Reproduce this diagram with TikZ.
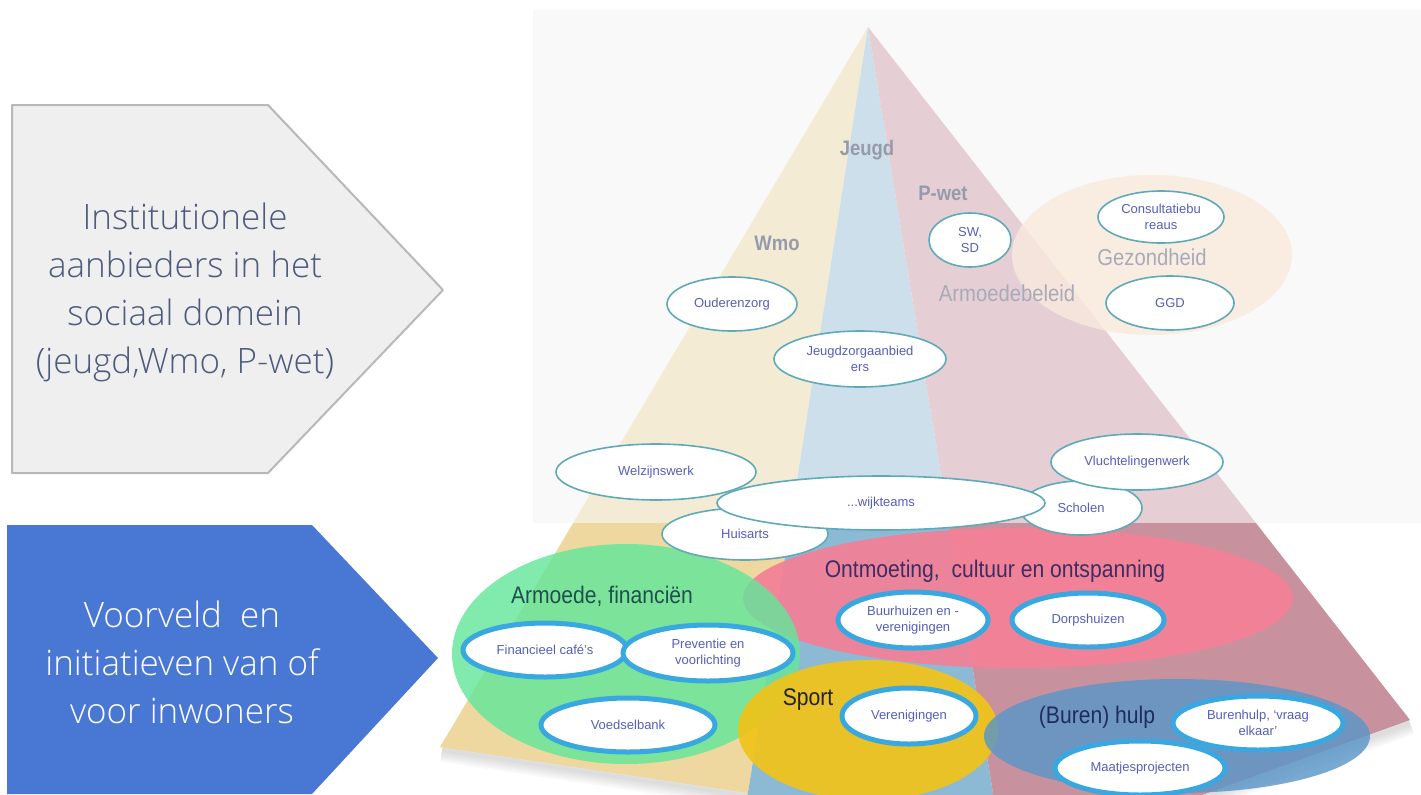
\documentclass[tikz,border=0pt]{standalone}
\usepackage{fontspec}
\setmainfont{Liberation Sans}
\newfontfamily\chevfont{Open Sans Light}
\usetikzlibrary{shapes.geometric}
\definecolor{pyel}{RGB}{238,216,160}
\definecolor{pblu}{RGB}{140,185,212}
\definecolor{pred}{RGB}{200,145,158}
\definecolor{fade}{RGB}{249,249,249}
\definecolor{peach}{RGB}{250,212,178}
\definecolor{mint}{RGB}{100,230,155}
\definecolor{rose}{RGB}{244,128,150}
\definecolor{gold}{RGB}{240,195,25}
\definecolor{steel}{RGB}{90,150,200}
\definecolor{tealrim}{RGB}{95,170,185}
\definecolor{ring}{RGB}{58,168,224}
\definecolor{ink}{RGB}{85,95,185}
\definecolor{lbl}{RGB}{150,155,172}
\definecolor{lbllight}{RGB}{168,170,186}
\definecolor{chevgray}{RGB}{239,239,239}
\definecolor{chevrim}{RGB}{184,184,184}
\definecolor{chevblue}{RGB}{72,120,212}
\definecolor{chevtxt}{RGB}{77,91,124}
\newcommand{\smal}[1]{\scalebox{0.88}[1]{#1}}
\begin{document}
\begin{tikzpicture}[x=0.5pt,y=-0.5pt, line join=round,
	org/.style={ellipse, draw=tealrim, line width=0.8pt, fill=white, inner sep=0pt, text=ink, font=\fontsize{6.5}{8}\selectfont, align=center},
	ini/.style={ellipse, draw=ring, line width=2.5pt, fill=white, inner sep=0pt, text=ink, font=\fontsize{6.5}{8}\selectfont, align=center},
	blob/.style={ellipse, inner sep=0pt},
	wet/.style={text=lbl, font=\fontsize{10.5}{12}\selectfont\bfseries},
	beleid/.style={text=lbllight, font=\fontsize{11.5}{12}\selectfont},
	thema/.style={font=\fontsize{12}{12}\selectfont},
	chev/.style={align=center, font=\chevfont\fontsize{17.5}{24}\selectfont}]
	\useasboundingbox (0,0) rectangle (1421,794);
	\clip (0,0) rectangle (1421,794);
	% pijlen links
	\draw[draw=chevrim, line width=1pt, fill=chevgray] (12,105)--(268,105)--(443,290)--(268,473)--(12,473)--cycle;
	\node[chev, text=chevtxt] (inst) at (185,292) {Institutionele\\aanbieders in het\\sociaal domein\\(jeugd,Wmo, P-wet)};
	\fill[chevblue] (7,525)--(312,525)--(438,658)--(312,794)--(7,794)--cycle;
	\node[chev, text=white] (voorv) at (182,662) {Voorveld~~en\\initiatieven van of\\voor inwoners};
	% piramide
	\fill[fade] (533,10) rectangle (1421,523);
	\foreach \w in {2,4,...,12}
		\draw[black, opacity=0.025, line width=\w pt] (442,750)--(748,796) (1410,723)--(1105,833);
	\fill[pyel] (868,27)--(440,747)--(748,793)--cycle;
	\fill[pblu] (868,27)--(748,793)--(740,830)--(999,830)--cycle;
	\fill[pred] (868,27)--(1410,720)--(1105,830)--(999,830)--cycle;
	\node[blob, fill=peach, opacity=0.8, minimum width=140pt, minimum height=80pt] (gezond) at (1152,255) {};
	\fill[fade, opacity=0.6] (533,10) rectangle (1421,523);
	\node[wet] (jeugd) at (867,150) {\smal{Jeugd}};
	\node[wet] (pwet) at (943,193) {\smal{P-wet}};
	\node[wet] (wmo) at (777,243) {\smal{Wmo}};
	\node[beleid] (armb) at (1007,293) {\smal{Armoedebeleid}};
	\node[beleid] (gezl) at (1152,257) {\smal{Gezondheid}};
	% voorveld
	\node[blob, fill=rose, opacity=0.92, minimum width=275pt, minimum height=70pt] (ontm) at (1018,598) {};
	\node[blob, fill=mint, opacity=0.82, minimum width=174pt, minimum height=110pt] (armoede) at (626,654) {};
	\node[blob, fill=gold, opacity=0.92, minimum width=130pt, minimum height=70pt] (sport) at (868,730) {};
	\node[blob, fill=steel, opacity=0.82, minimum width=193pt, minimum height=57pt] (buren) at (1177,736) {};
	\node[thema, text={rgb,255:red,30;green,80;blue,78}] (armt) at (602,596) {\smal{Armoede, financiën}};
	\node[thema, text={rgb,255:red,60;green,45;blue,100}] (ontmt) at (995,571) {\smal{Ontmoeting,~~cultuur en ontspanning}};
	\node[thema, text={rgb,255:red,34;green,34;blue,34}] (sportt) at (808,700) {\smal{Sport}};
	\node[thema, text={rgb,255:red,30;green,45;blue,95}] (burent) at (1097,717) {\smal{(Buren) hulp}};
	% aanbieders
	\node[org, minimum width=41pt, minimum height=27pt] (swsd) at (970,240) {SW,\\SD};
	\node[org, minimum width=63pt, minimum height=26pt] (consult) at (1161,217) {Consultatiebu\\reaus};
	\node[org, minimum width=64pt, minimum height=27pt] (ggd) at (1170,303) {GGD};
	\node[org, minimum width=65pt, minimum height=27pt] (ouder) at (732,304) {Ouderenzorg};
	\node[org, minimum width=86pt, minimum height=28pt] (jzorg) at (860,359) {Jeugdzorgaanbied\\ers};
	\node[org, minimum width=100pt, minimum height=28pt] (welzijn) at (656,472) {Welzijnswerk};
	\node[org, minimum width=61pt, minimum height=27pt] (scholen) at (1081,508) {Scholen};
	\node[org, minimum width=86pt, minimum height=28pt] (vlucht) at (1137,462) {Vluchtelingenwerk};
	\node[org, minimum width=83pt, minimum height=26pt] (huisarts) at (745,534) {Huisarts};
	\node[org, minimum width=164pt, minimum height=27pt] (wijk) at (881,503) {...wijkteams};
	% initiatieven
	\node[ini, minimum width=82pt, minimum height=27pt] (fincafe) at (545,650) {Financieel café's};
	\node[ini, minimum width=85pt, minimum height=28pt] (prev) at (708,653) {Preventie en\\voorlichting};
	\node[ini, minimum width=87pt, minimum height=27pt] (voedsel) at (628,725) {Voedselbank};
	\node[ini, minimum width=75pt, minimum height=28pt] (buurhuis) at (913,620) {Buurhuizen en -\\verenigingen};
	\node[ini, minimum width=76pt, minimum height=27pt] (dorps) at (1088,620) {Dorpshuizen};
	\node[ini, minimum width=67pt, minimum height=28pt] (vereni) at (909,716) {Verenigingen};
	\node[ini, minimum width=85pt, minimum height=27pt] (burenhulp) at (1258,723) {Burenhulp, `vraag\\elkaar'};
	\node[ini, minimum width=85pt, minimum height=27pt] (maatjes) at (1140,768) {Maatjesprojecten};
\end{tikzpicture}
\end{document}
